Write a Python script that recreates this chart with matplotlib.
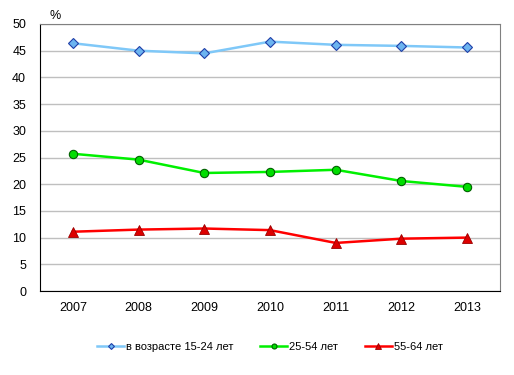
import matplotlib
matplotlib.use("Agg")
import matplotlib.pyplot as plt

years=["2007","2008","2009","2010","2011","2012","2013"]
young=[46.4,45.0,44.5,46.7,46.1,45.9,45.6]
middle=[25.7,24.6,22.1,22.3,22.7,20.6,19.5]
older=[11.1,11.5,11.7,11.4,9.0,9.8,10.0]
labels=["в возрасте 15-24 лет","25-54 лет","55-64 лет"]

plt.rcParams["font.family"]=["Liberation Sans","DejaVu Sans"]
plt.rcParams["font.size"]=9

fig=plt.figure(figsize=(5.14,3.75),dpi=100)
ax=fig.add_axes([40/514,1-291/375,460/514,267/375])

x=range(len(years))
ax.plot(x,young,color="#7FC8F8",lw=1.8,marker="D",ms=5,mfc="#6CB4F0",mec="#1F3FA8",mew=0.8,label=labels[0],zorder=3)
ax.plot(x,middle,color="#00F000",lw=1.8,marker="o",ms=6,mfc="#00DD00",mec="#006000",mew=0.8,label=labels[1],zorder=3)
ax.plot(x,older,color="#FF0000",lw=1.8,marker="^",ms=7,mfc="#DD0000",mec="#990000",mew=0.6,label=labels[2],zorder=3)

ax.set_xlim(-0.5,len(years)-0.5)
ax.set_ylim(0,50)
ax.set_yticks(range(0,51,5))
ax.set_xticks(list(x))
ax.set_xticklabels(years)
ax.yaxis.grid(True,color="#BFBFBF",lw=1)
ax.set_axisbelow(True)
ax.tick_params(length=0,pad=8,labelsize=9)
ax.tick_params(axis="y",pad=10)
for s in ["top","right"]:
    ax.spines[s].set_color("#808080")
for s in ["left","bottom"]:
    ax.spines[s].set_color("black")

fig.text(55/514,1-16/375,"%",ha="center",va="center",fontsize=9)

leg=fig.legend(loc="center",bbox_to_anchor=(270/514,1-347/375),ncol=3,frameon=False,
               fontsize=8,markerscale=0.6,handlelength=2.4,columnspacing=2.4,handletextpad=0.2)

fig.savefig("out.png",dpi=100)
